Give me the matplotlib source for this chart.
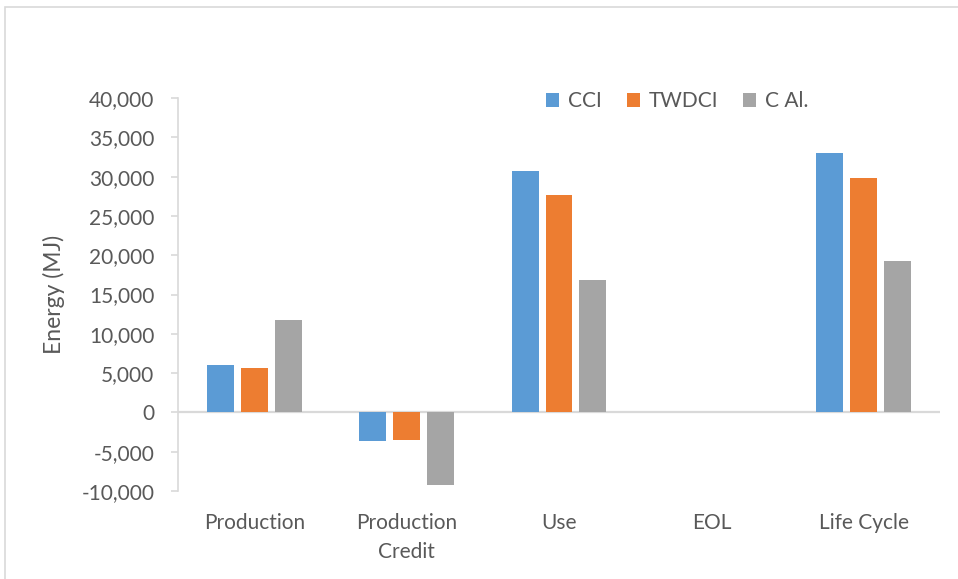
import matplotlib.pyplot as plt
import numpy as np
from matplotlib.patches import Rectangle
from matplotlib.ticker import FuncFormatter

# data
categories = ["Production", "Production\nCredit", "Use", "EOL", "Life Cycle"]
cci = [6000, -3700, 30650, 0, 33000]
twdci = [5600, -3450, 27600, 0, 29800]
c_al = [11700, -9300, 16800, 0, 19250]
series_names = ["CCI", "TWDCI", "C Al."]
colors = ["#5B9BD5", "#ED7D31", "#A5A5A5"]

TEXT = "#595959"
LINE = "#D9D9D9"

plt.rcParams['font.family'] = ['Lato', 'DejaVu Sans']

fig = plt.figure(figsize=(9.58, 5.79), dpi=100)
# chart frame like the Excel chart area
fig.patches.append(Rectangle((5 / 958, -0.1), 1.2, 1 - 7 / 579 + 0.1,
                             transform=fig.transFigure, fill=False,
                             edgecolor=LINE, linewidth=1.2))

ax = fig.add_axes([178 / 958, 1 - 491 / 579, (940 - 178) / 958, (491 - 98) / 579])

x = np.arange(len(categories))
width = 0.177
step = 0.223
for i, (vals, name, col) in enumerate(zip([cci, twdci, c_al], series_names, colors)):
    ax.bar(x + (i - 1) * step, vals, width, color=col, label=name,
           linewidth=0, zorder=3)

ax.axhline(0, color=LINE, linewidth=1.6, zorder=2)

ax.set_xlim(-0.5, len(categories) - 0.5)
ax.set_ylim(-10000, 40000)
ax.set_yticks(np.arange(-10000, 40001, 5000))
ax.yaxis.set_major_formatter(FuncFormatter(lambda v, p: f"{int(v):,}"))
ax.set_xticks(x)
ax.set_xticklabels(categories, linespacing=1.55)

for s in ['top', 'right', 'bottom']:
    ax.spines[s].set_visible(False)
ax.spines['left'].set_color(LINE)
ax.spines['left'].set_linewidth(1.2)

ax.tick_params(axis='y', colors=LINE, labelcolor=TEXT, labelsize=15,
               length=5, width=1.2, pad=12)
ax.tick_params(axis='x', length=0, labelcolor=TEXT, labelsize=15, pad=16)

ax.set_ylabel("Energy (MJ)", color=TEXT, fontsize=16.5, labelpad=12)

fig.legend(loc='center', bbox_to_anchor=(677 / 958, 1 - 101 / 579), ncol=3,
           frameon=False, fontsize=15, handlelength=0.65, handleheight=0.65,
           handletextpad=0.4, columnspacing=1.2, labelcolor=TEXT)

fig.savefig("out.png", dpi=100)
